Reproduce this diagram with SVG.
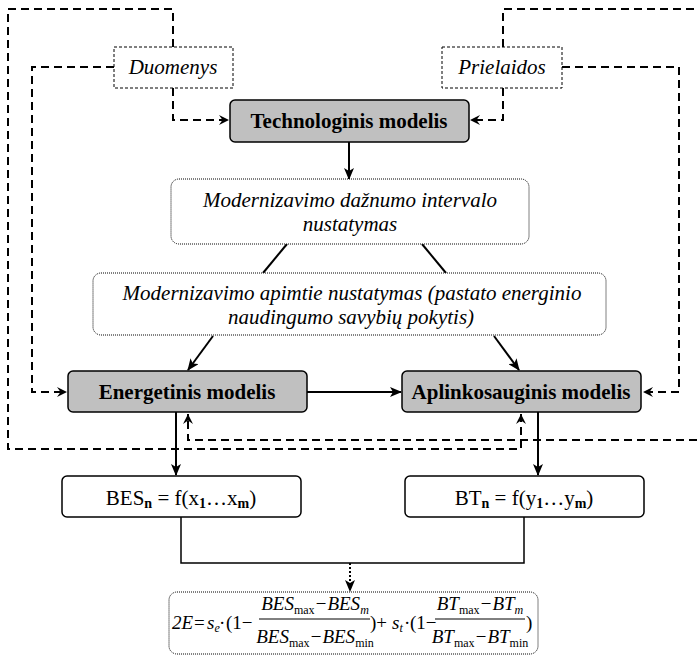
<svg xmlns="http://www.w3.org/2000/svg" width="699" height="657" viewBox="0 0 699 657">
  <defs>
    <marker id="solid" viewBox="0 0 12 10" refX="11" refY="5" markerWidth="12" markerHeight="10" markerUnits="userSpaceOnUse" orient="auto">
      <path d="M0,0 L12,5 L0,10 L3,5 Z" fill="#000"/>
    </marker>
    <marker id="chev" viewBox="0 0 11 11" refX="10.5" refY="5.5" markerWidth="11" markerHeight="11" markerUnits="userSpaceOnUse" orient="auto">
      <path d="M0.5,0.5 L10.5,5.5 L0.5,10.5 L4,5.5 Z" fill="#000"/>
    </marker>
    <style>
      .model { fill: #c0c0c0; stroke: #000; stroke-width: 1.5; }
      .result { fill: #fff; stroke: #000; stroke-width: 1.5; }
      .source { fill: #fff; stroke: #000; stroke-width: 1; stroke-dasharray: 3 2; }
      .step { fill: #fff; stroke: #000; stroke-width: 1; stroke-dasharray: 1 1; }
      .flow { fill: none; stroke: #000; stroke-width: 2; }
      .feed { fill: none; stroke: #000; stroke-width: 2; stroke-dasharray: 8 5; }
      .txt { font-family: "Liberation Serif", "Times New Roman", serif; font-size: 21px; fill: #000; text-anchor: middle; }
      .it { font-style: italic; }
      .bold { font-weight: bold; }
      .eq { font-family: "Liberation Serif", "Times New Roman", serif; font-size: 19px; fill: #000; }
      .v { font-style: italic; }
      .up { font-style: normal; }
      .sub { font-size: 12px; }
    </style>
  </defs>

  <!-- connectors -->
  <g id="connectors">
    <!-- feedback / input routes (dashed) -->
    <path class="feed" d="M173,47 V9 H8 V449 H521 V414" marker-end="url(#chev)"/>
    <path class="feed" d="M503,47 V9 H710 V440 H188 V414" marker-end="url(#chev)"/>
    <path class="feed" d="M114,67 H32 V392 H67" marker-end="url(#chev)"/>
    <path class="feed" d="M173,88 V120 H229" marker-end="url(#chev)"/>
    <path class="feed" d="M562,67 H679 V392 H643" marker-end="url(#chev)"/>
    <path class="feed" d="M503,88 V120 H470" marker-end="url(#chev)"/>

    <!-- main flow (solid) -->
    <path class="flow" d="M349,142 V179" marker-end="url(#solid)"/>
    <path class="flow" d="M287,244 L263,273"/>
    <path class="flow" d="M422,244 L446,273"/>
    <path class="flow" d="M213,336 L188,370" marker-end="url(#solid)"/>
    <path class="flow" d="M494,336 L519,370" marker-end="url(#solid)"/>
    <path class="flow" d="M307,392 H401" marker-end="url(#solid)"/>
    <path class="flow" d="M176,412 V475" marker-end="url(#solid)"/>
    <path class="flow" d="M538,412 V475" marker-end="url(#solid)"/>
    <path fill="none" stroke="#000" stroke-width="1.5" d="M181,517 V563 H524 V517"/>
    <path fill="none" stroke="#000" stroke-width="2" stroke-dasharray="2 2" d="M350,563 V591" marker-end="url(#solid)"/>
  </g>

  <g id="duomenys">
    <rect class="source" x="114" y="47" width="119" height="41"/>
    <text class="txt it" x="173" y="74">Duomenys</text>
  </g>

  <g id="prielaidos">
    <rect class="source" x="442" y="47" width="120" height="41"/>
    <text class="txt it" x="502" y="74">Prielaidos</text>
  </g>

  <g id="technologinis">
    <rect class="model" x="230" y="100" width="239" height="42" rx="5"/>
    <text class="txt bold" x="349" y="128">Technologinis modelis</text>
  </g>

  <g id="intervalas">
    <rect class="step" x="171" y="179" width="358" height="65" rx="8"/>
    <text class="txt it" x="350" y="207">Modernizavimo dažnumo intervalo</text>
    <text class="txt it" x="350" y="231">nustatymas</text>
  </g>

  <g id="apimtis">
    <rect class="step" x="93" y="273" width="513" height="62" rx="8"/>
    <text class="txt it" x="352" y="300">Modernizavimo apimtie nustatymas (pastato energinio</text>
    <text class="txt it" x="351" y="324">naudingumo savybių pokytis)</text>
  </g>

  <g id="energetinis">
    <rect class="model" x="68" y="371" width="239" height="41" rx="5"/>
    <text class="txt bold" x="187" y="399">Energetinis modelis</text>
  </g>

  <g id="aplinkosauginis">
    <rect class="model" x="402" y="371" width="239" height="41" rx="5"/>
    <text class="txt bold" x="521" y="399">Aplinkosauginis modelis</text>
  </g>

  <g id="bes">
    <rect class="result" x="62" y="476" width="239" height="41" rx="5"/>
    <text class="txt" x="181" y="505">BES<tspan class="bold" font-size="14" dy="3">n</tspan><tspan dy="-3"> = f(x</tspan><tspan class="bold" font-size="14" dy="3">1</tspan><tspan dy="-3">…x</tspan><tspan class="bold" font-size="14" dy="3">m</tspan><tspan dy="-3">)</tspan></text>
  </g>

  <g id="bt">
    <rect class="result" x="405" y="476" width="239" height="41" rx="5"/>
    <text class="txt" x="524" y="505">BT<tspan class="bold" font-size="14" dy="3">n</tspan><tspan dy="-3"> = f(y</tspan><tspan class="bold" font-size="14" dy="3">1</tspan><tspan dy="-3">…y</tspan><tspan class="bold" font-size="14" dy="3">m</tspan><tspan dy="-3">)</tspan></text>
  </g>

  <g id="ivertinimas">
    <rect class="step" x="169" y="592" width="369" height="62" rx="8"/>
    <text class="eq v" x="172" y="629">2E</text>
    <text class="eq up" x="194" y="629">=</text>
    <text class="eq v" x="207" y="629">s<tspan class="sub" dy="3">e</tspan></text>
    <text class="eq up" x="219" y="629">·</text>
    <text class="eq up" x="226" y="629">(1−</text>
    <line x1="259" y1="619" x2="370" y2="619" stroke="#000" stroke-width="1"/>
    <text class="eq v" x="315" y="610" text-anchor="middle">BES<tspan class="sub up" dy="4">max</tspan><tspan dy="-4">−BES</tspan><tspan class="sub" dy="4">m</tspan></text>
    <text class="eq v" x="315" y="643" text-anchor="middle">BES<tspan class="sub up" dy="4">max</tspan><tspan dy="-4">−BES</tspan><tspan class="sub up" dy="4">min</tspan></text>
    <text class="eq up" x="370" y="629">)+</text>
    <text class="eq v" x="392" y="629">s<tspan class="sub" dy="3">t</tspan></text>
    <text class="eq up" x="404" y="629">·</text>
    <text class="eq up" x="410" y="629">(1−</text>
    <line x1="435" y1="619" x2="525" y2="619" stroke="#000" stroke-width="1"/>
    <text class="eq v" x="480" y="610" text-anchor="middle">BT<tspan class="sub up" dy="4">max</tspan><tspan dy="-4">−BT</tspan><tspan class="sub" dy="4">m</tspan></text>
    <text class="eq v" x="480" y="643" text-anchor="middle">BT<tspan class="sub up" dy="4">max</tspan><tspan dy="-4">−BT</tspan><tspan class="sub up" dy="4">min</tspan></text>
    <text class="eq up" x="526" y="629">)</text>
  </g>
</svg>
